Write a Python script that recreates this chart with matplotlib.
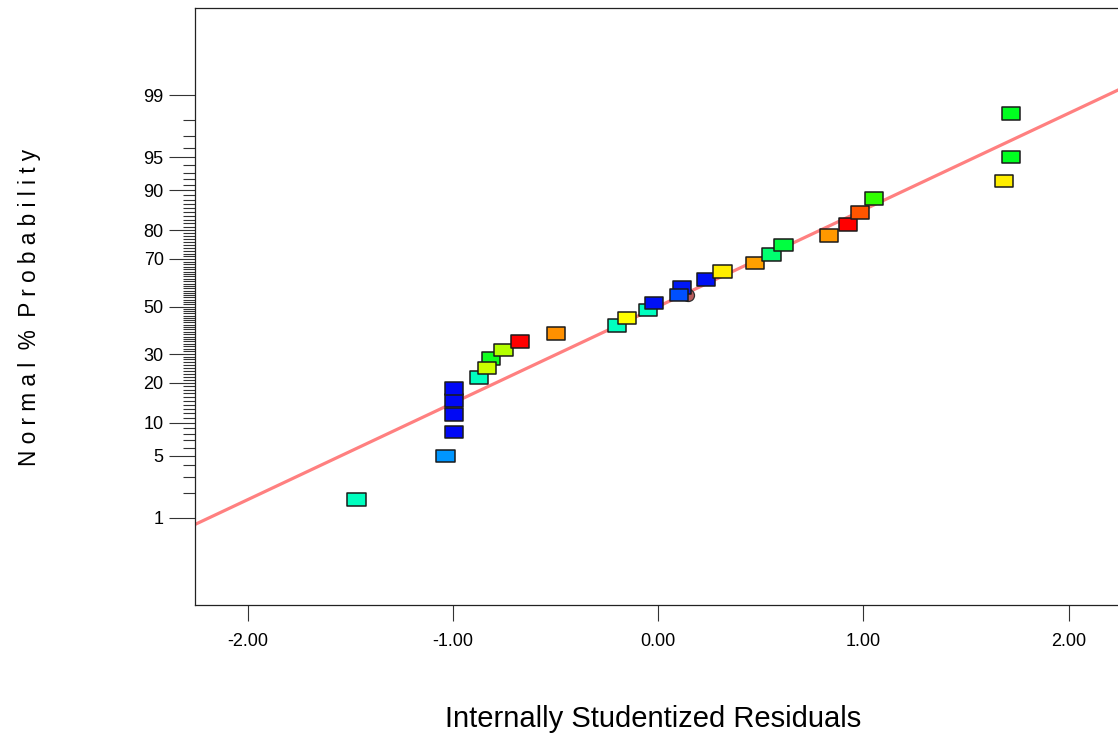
import numpy as np
import matplotlib
matplotlib.use("Agg")
import matplotlib.pyplot as plt
from matplotlib.path import Path
from statistics import NormalDist

# residuals (x) and their normal % probability (y)
residuals = [-1.469, -1.035, -0.995, -0.995, -0.995, -0.995, -0.873, -0.835,
             -0.814, -0.754, -0.673, -0.497, -0.199, -0.153, -0.048, -0.020,
             0.102, 0.115, 0.233, 0.313, 0.472, 0.553, 0.610, 0.834, 0.924,
             0.984, 1.052, 1.685, 1.719, 1.719]
normal_pct = [1.67, 5.0, 8.33, 11.67, 15.0, 18.33, 21.67, 25.0, 28.33, 31.67,
              35.0, 38.33, 41.67, 45.0, 48.33, 51.67, 55.0, 58.33, 61.67, 65.0,
              68.33, 71.67, 75.0, 78.33, 81.67, 85.0, 88.33, 91.67, 95.0, 98.33]
point_colors = ["#00FFBF", "#0096FF", "#0008F5", "#0008F5", "#0008F5", "#0008F5",
                "#00FFBF", "#CCFF00", "#10FF20", "#B4FF00", "#FF0000", "#FF9000",
                "#00FFBF", "#FFFF00", "#00FFBF", "#0010F5", "#0050FF", "#0018F5",
                "#0010F5", "#FFEE00", "#FFA000", "#00FF70", "#00FF40", "#FF9800",
                "#FF0000", "#FF5500", "#30FF00", "#FFEE00", "#00FF20", "#00FF20"]
# order the boxes are painted in (last one ends on top)
draw_order = [0, 1, 2, 3, 4, 5, 6, 8, 7, 9, 10, 11, 12, 13, 14, 15, 17, 16,
              18, 19, 20, 21, 22, 23, 24, 25, 26, 27, 28, 29]

# hidden centre point behind one of the boxes
circle_x = [0.146]
circle_pct = [55.0]

# normal reference line: z = intercept + slope * residual
fit_intercept = 0.0
fit_slope = 1.065

y_major = [1, 5, 10, 20, 30, 50, 70, 80, 90, 95, 99]
y_minor = list(range(1, 100))
x_ticks = [-2.0, -1.0, 0.0, 1.0, 2.0]

nd = NormalDist()
_ppf = np.vectorize(lambda p: nd.inv_cdf(min(max(p / 100.0, 1e-9), 1 - 1e-9)), otypes=[float])
_cdf = np.vectorize(lambda z: nd.cdf(z) * 100.0, otypes=[float])


def prob_forward(p):
    return _ppf(np.asarray(p, dtype=float))


def prob_inverse(z):
    return _cdf(np.asarray(z, dtype=float))


plt.rcParams['font.family'] = ['Liberation Sans', 'DejaVu Sans']

W, H = 1118, 735
fig = plt.figure(figsize=(W / 100, H / 100), dpi=100)
ax = fig.add_axes([195 / W, 130 / H, (1121 - 195) / W, 597 / H])

ax.set_yscale('function', functions=(prob_forward, prob_inverse))
ax.set_xlim(-2.256, 2.255)
ax.set_ylim(0.05, 99.95)

# reference line
xs = np.array(ax.get_xlim())
ax.plot(xs, prob_inverse(fit_intercept + fit_slope * xs), color="#FF8080",
        lw=2.3, zorder=2, solid_capstyle='butt')

ax.scatter(circle_x, circle_pct, s=75, marker='o', color="#B85C5C",
           edgecolors="#303030", linewidths=0.9, zorder=3)

box = Path([(-1.5, -1), (1.5, -1), (1.5, 1), (-1.5, 1), (-1.5, -1)],
           [Path.MOVETO, Path.LINETO, Path.LINETO, Path.LINETO, Path.CLOSEPOLY])
order = np.array(draw_order)
ax.scatter(np.array(residuals)[order], np.array(normal_pct)[order], s=175,
           marker=box, c=np.array(point_colors)[order], edgecolors="#1A1A1A",
           linewidths=1.1, zorder=4)

ax.set_xticks(x_ticks)
ax.set_xticklabels([f"{v:.2f}" for v in x_ticks])
ax.set_yticks(y_major)
ax.set_yticklabels([str(v) for v in y_major])
ax.set_yticks(y_minor, minor=True)
ax.xaxis.set_minor_locator(plt.NullLocator())

ax.tick_params(axis='x', direction='out', length=11.5, width=0.8, color="#333333",
               pad=9, labelsize=13)
ax.tick_params(axis='y', which='major', direction='out', length=18.5, width=0.8,
               color="#333333", pad=4, labelsize=13)
ax.tick_params(axis='y', which='minor', direction='out', length=9, width=0.8,
               color="#333333")

ax.spines['right'].set_visible(False)
for side in ('left', 'bottom', 'top'):
    ax.spines[side].set_linewidth(0.9)
    ax.spines[side].set_color("#222222")

fig.text(653 / W, 1 - 719 / H, "Internally Studentized Residuals",
         ha='center', va='center', fontsize=21)
fig.text(30 / W, 1 - 307 / H, "N o r m a l  %  P r o b a b i l i t y",
         ha='center', va='center', rotation=90, fontsize=16.3)

fig.savefig("out.png", dpi=100)
